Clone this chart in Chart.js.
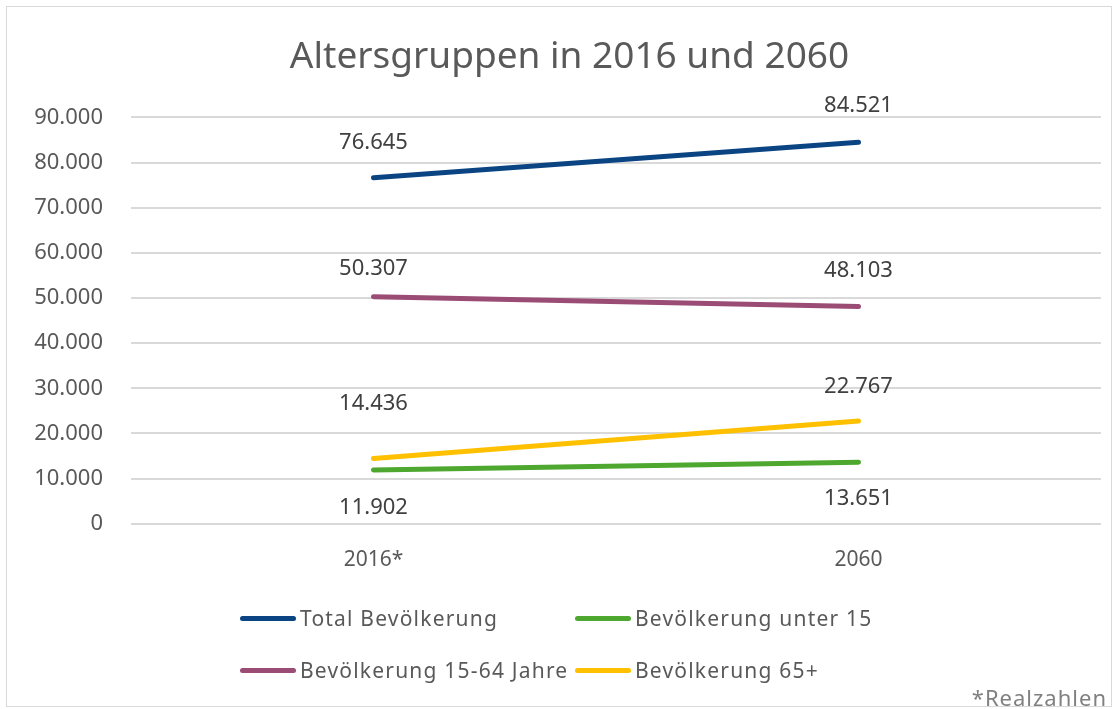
<!DOCTYPE html>
<html>
<head>
<meta charset="utf-8">
<script src="https://cdn.jsdelivr.net/npm/chart.js@4.4.1/dist/chart.umd.min.js"></script>
<style>
  html, body { margin: 0; padding: 0; background: #fff; }
  body { width: 1120px; height: 709px; position: relative; overflow: hidden; font-family: "Noto Sans", sans-serif; }
  #frame { position: absolute; left: 6px; top: 6px; width: 1104px; height: 699px; border: 1.5px solid #d9d9d9; pointer-events: none; }
  #wrap { position: absolute; left: 0; top: 0; width: 1120px; height: 709px; }
  #legend { position: absolute; left: 240px; top: 604px; display: grid; grid-template-columns: 335px 335px; row-gap: 24px; }
  .item { display: flex; align-items: center; height: 28px; font-size: 21px; letter-spacing: 1.2px; color: #595959; white-space: nowrap; }
  .mark { width: 56px; height: 5px; border-radius: 3px; margin-right: 4px; }
  #note { position: absolute; right: 13px; top: 682px; font-size: 22px; letter-spacing: 1px; color: #808080; }
</style>
</head>
<body>
<div id="wrap"><canvas id="chart"></canvas></div>
<div id="frame"></div>
<div id="legend"></div>
<div id="note">*Realzahlen</div>
<script>
// Data
const years = ["2016*", "2060"];
const seriesNames = ["Total Bevölkerung", "Bevölkerung unter 15", "Bevölkerung 15-64 Jahre", "Bevölkerung 65+"];
const total = [76645, 84521];
const under15 = [11902, 13651];
const age15to64 = [50307, 48103];
const over65 = [14436, 22767];
const yTicks = [0, 10000, 20000, 30000, 40000, 50000, 60000, 70000, 80000, 90000];

const colors = ["#0b4482", "#4ea72e", "#9a4c75", "#ffc000"];
const fmt = v => v.toLocaleString("de-DE");

// dataset order matches legend grid (row by row)
const seriesValues = [total, under15, age15to64, over65];

// label offsets from the point (px), per dataset & point
const labelOffsets = [[-35, -36], [38, 37], [-28, -36], [-55, -34]];

const dataLabels = {
  id: "dataLabels",
  afterDatasetsDraw(chart) {
    const ctx = chart.ctx;
    ctx.save();
    ctx.font = "22px 'Noto Sans', sans-serif";
    ctx.fillStyle = "#404040";
    ctx.textAlign = "center";
    ctx.textBaseline = "middle";
    chart.data.datasets.forEach((ds, i) => {
      chart.getDatasetMeta(i).data.forEach((pt, j) => {
        ctx.fillText(fmt(ds.data[j]), pt.x, pt.y + labelOffsets[i][j]);
      });
    });
    ctx.restore();
  }
};

// nudge the title a bit right, like the original
const titleShift = {
  id: "titleShift",
  afterLayout(chart) {
    if (chart.titleBlock) chart.titleBlock.left += 38;
  }
};

new Chart(document.getElementById("chart"), {
  type: "line",
  data: {
    labels: years,
    datasets: seriesNames.map((name, i) => ({
      label: name,
      data: seriesValues[i],
      borderColor: colors[i],
      backgroundColor: colors[i],
      borderWidth: 5,
      borderCapStyle: "round",
      pointRadius: 0,
      tension: 0
    }))
  },
  options: {
    responsive: true,
    maintainAspectRatio: false,
    animation: false,
    layout: { padding: { top: 35, left: 0, right: 19, bottom: 112 } },
    plugins: {
      legend: { display: false },
      tooltip: { enabled: false },
      title: {
        display: true,
        text: "Altersgruppen in 2016 und 2060",
        color: "#595959",
        font: { family: "'Noto Sans', sans-serif", size: 37, weight: "normal" },
        padding: { top: 0, bottom: 38 }
      }
    },
    scales: {
      x: {
        offset: true,
        grid: { display: false, drawTicks: false },
        border: { display: false },
        ticks: { color: "#595959", padding: 24, font: { family: "'Noto Sans', sans-serif", size: 21 } }
      },
      y: {
        min: 0,
        max: 90000,
        afterBuildTicks: scale => { scale.ticks = yTicks.map(v => ({ value: v })); },
        afterFit: scale => { scale.width = 131; },
        grid: { color: "#d9d9d9", lineWidth: 2, drawTicks: false },
        border: { display: false },
        ticks: {
          color: "#595959",
          padding: 28,
          font: { family: "'Noto Sans', sans-serif", size: 22 },
          callback: v => fmt(v)
        }
      }
    }
  },
  plugins: [dataLabels, titleShift]
});

// Legend
const legend = document.getElementById("legend");
seriesNames.forEach((name, i) => {
  const item = document.createElement("div");
  item.className = "item";
  item.innerHTML = `<span class="mark" style="background:${colors[i]}"></span>${name}`;
  legend.appendChild(item);
});
</script>
</body>
</html>
